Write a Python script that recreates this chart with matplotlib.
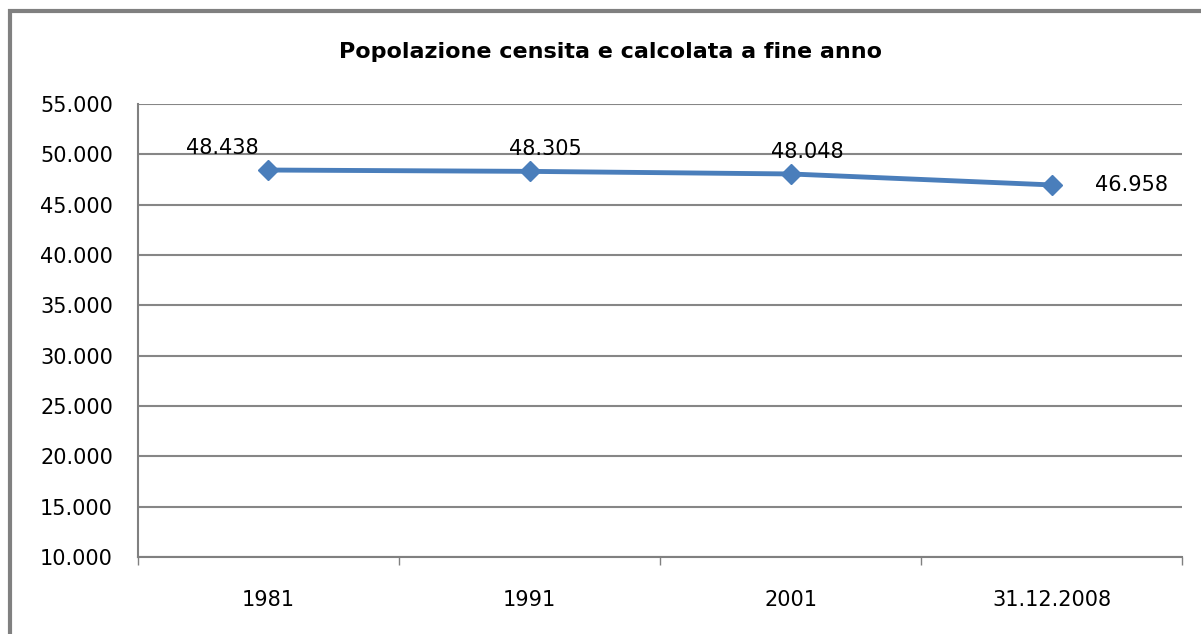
import matplotlib.pyplot as plt
import matplotlib.patches as patches
import numpy as np

plt.rcParams['font.family'] = ['DejaVu Sans']

anni = ['1981', '1991', '2001', '31.12.2008']
popolazione = [48438, 48305, 48048, 46958]
y_ticks = list(range(10000, 55001, 5000))

def fmt(v):
    return '{:,}'.format(v).replace(',', '.')

fig = plt.figure(figsize=(12.01, 6.34), dpi=100)
ax = fig.add_axes([0.1149, 0.1215, 0.8693, 0.7145])

# bordo esterno del grafico
fig.patches.append(patches.Rectangle((10 / 1201, -0.05), 1.1, 1 - 11 / 634 + 0.05,
                                     transform=fig.transFigure, fill=False,
                                     edgecolor='#808080', linewidth=3))

x = np.arange(len(anni))
ax.plot(x, popolazione, color='#4a7ebb', linewidth=3.5, marker='D',
        markersize=10, zorder=3)

offsets = [(-46, 12, 'center', 'bottom'), (16, 12, 'center', 'bottom'),
           (17, 12, 'center', 'bottom'), (43, 0, 'left', 'center')]
for xi, v, (dx, dy, ha, va) in zip(x, popolazione, offsets):
    ax.annotate(fmt(v), (xi, v), xytext=(dx, dy), textcoords='offset pixels',
                ha=ha, va=va, fontsize=15)

ax.set_xlim(-0.5, len(anni) - 0.5)
ax.set_ylim(10000, 55000)
ax.set_yticks(y_ticks)
ax.set_yticklabels([fmt(t) for t in y_ticks], fontsize=15)
ax.set_xticks(x)
ax.set_xticklabels(anni, fontsize=15)
ax.tick_params(axis='x', length=0, pad=24)
ax.tick_params(axis='y', length=0, pad=18)
ax.set_xticks(np.arange(len(anni) + 1) - 0.5, minor=True)
ax.tick_params(axis='x', which='minor', length=6, color='#808080', width=1)

ax.grid(axis='y', color='#868686', linewidth=1.5)
ax.set_axisbelow(True)
for s in ['top', 'right']:
    ax.spines[s].set_visible(False)
for s in ['left', 'bottom']:
    ax.spines[s].set_color('#808080')
    ax.spines[s].set_linewidth(1.5)

fig.text(0.508, 0.918, 'Popolazione censita e calcolata a fine anno',
         ha='center', va='center', fontsize=16, fontweight='bold')

fig.savefig('out.png', dpi=100)
